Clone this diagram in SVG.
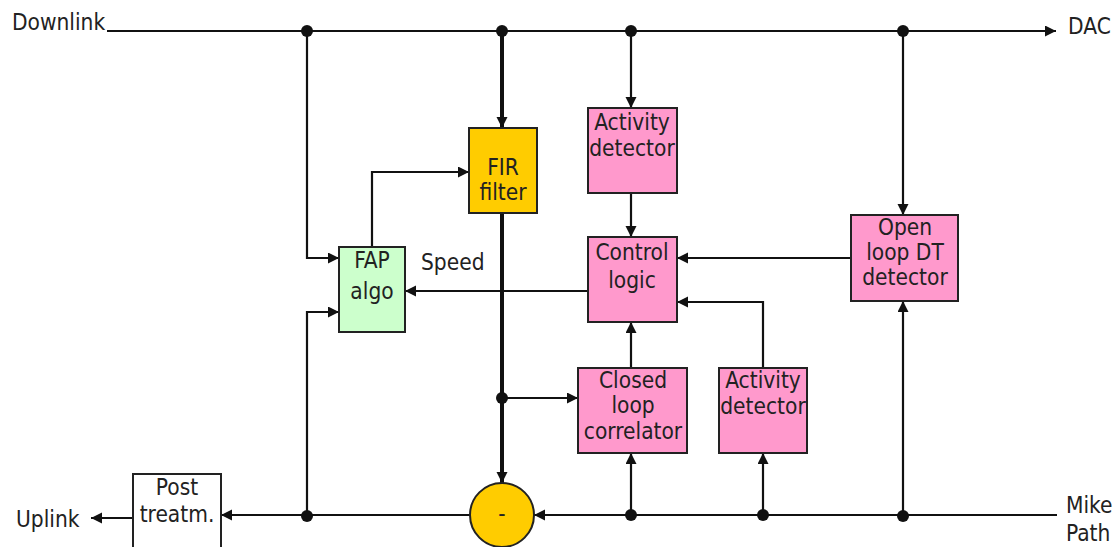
<svg xmlns="http://www.w3.org/2000/svg" width="1117" height="547" viewBox="0 0 1117 547">
  <style>
    .box { stroke: #222; stroke-width: 2; }
    .pink { fill: #ff99cc; }
    .gold { fill: #ffcc00; }
    .green { fill: #ccffcc; }
    .white { fill: #ffffff; }
    .lbl { font-family: "DejaVu Sans Condensed", "DejaVu Sans", sans-serif; font-size: 22.5px; fill: #222; }
    .mid { text-anchor: middle; }
    .wire { fill: none; stroke: #111; stroke-width: 2.2; }
    .thick { stroke-width: 4; }
    .dot { fill: #111; }
  </style>
  <defs>
    <marker id="arrow" markerUnits="userSpaceOnUse" markerWidth="12" markerHeight="12" refX="11" refY="5.5" orient="auto">
      <path d="M0,0 L11,5.5 L0,11 z" fill="#111"/>
    </marker>
  </defs>

  <rect width="1117" height="547" fill="#ffffff"/>

  <!-- connectors -->
  <g id="connectors">
    <path class="wire" d="M107,31 H1056" marker-end="url(#arrow)"/>
    <path class="wire" d="M307,31 V258 H339" marker-end="url(#arrow)"/>
    <path class="wire thick" d="M502,31 V128" marker-end="url(#arrow)"/>
    <path class="wire" d="M631,31 V108" marker-end="url(#arrow)"/>
    <path class="wire" d="M903,31 V215" marker-end="url(#arrow)"/>
    <path class="wire" d="M372,247 V172 H469" marker-end="url(#arrow)"/>
    <path class="wire" d="M631,193 V237" marker-end="url(#arrow)"/>
    <path class="wire" d="M851,258 H677" marker-end="url(#arrow)"/>
    <path class="wire" d="M588,291 H405" marker-end="url(#arrow)"/>
    <path class="wire thick" d="M502,213 V483" marker-end="url(#arrow)"/>
    <path class="wire" d="M502,398 H578" marker-end="url(#arrow)"/>
    <path class="wire" d="M631,368 V322" marker-end="url(#arrow)"/>
    <path class="wire" d="M763,368 V302 H677" marker-end="url(#arrow)"/>
    <path class="wire" d="M1057,515 H534" marker-end="url(#arrow)"/>
    <path class="wire" d="M631,515 V453" marker-end="url(#arrow)"/>
    <path class="wire" d="M763,515 V453" marker-end="url(#arrow)"/>
    <path class="wire" d="M903,515 V301" marker-end="url(#arrow)"/>
    <path class="wire" d="M470,515 H221" marker-end="url(#arrow)"/>
    <path class="wire" d="M307,515 V312 H339" marker-end="url(#arrow)"/>
    <path class="wire" d="M133,518 H91" marker-end="url(#arrow)"/>
    <circle class="dot" cx="307" cy="31" r="6"/>
    <circle class="dot" cx="502" cy="31" r="6"/>
    <circle class="dot" cx="631" cy="31" r="6"/>
    <circle class="dot" cx="903" cy="31" r="6"/>
    <circle class="dot" cx="502" cy="398" r="6"/>
    <circle class="dot" cx="307" cy="516" r="6"/>
    <circle class="dot" cx="631" cy="515" r="6"/>
    <circle class="dot" cx="763" cy="515" r="6"/>
    <circle class="dot" cx="903" cy="516" r="6"/>
  </g>

  <!-- signal labels -->
  <text class="lbl" x="12" y="30">Downlink</text>
  <text class="lbl" x="1068" y="34">DAC</text>
  <text class="lbl" x="421" y="270">Speed</text>
  <text class="lbl" x="16" y="527">Uplink</text>
  <text class="lbl" x="1066" y="513">Mike</text>
  <text class="lbl" x="1066" y="541">Path</text>

  <g id="fir-filter">
    <rect class="box gold" x="469" y="128" width="68" height="85"/>
    <text class="lbl mid" x="503" y="175">FIR</text>
    <text class="lbl mid" x="503" y="200">filter</text>
  </g>

  <g id="fap-algo">
    <rect class="box green" x="339" y="247" width="66" height="85"/>
    <text class="lbl mid" x="372" y="268">FAP</text>
    <text class="lbl mid" x="372" y="299">algo</text>
  </g>

  <g id="activity-detector-dl">
    <rect class="box pink" x="588" y="108" width="89" height="85"/>
    <text class="lbl mid" x="632" y="130">Activity</text>
    <text class="lbl mid" x="632" y="156">detector</text>
  </g>

  <g id="control-logic">
    <rect class="box pink" x="588" y="237" width="89" height="85"/>
    <text class="lbl mid" x="632" y="260">Control</text>
    <text class="lbl mid" x="632" y="288">logic</text>
  </g>

  <g id="open-loop-dt">
    <rect class="box pink" x="851" y="215" width="107" height="86"/>
    <text class="lbl mid" x="905" y="235">Open</text>
    <text class="lbl mid" x="905" y="260">loop DT</text>
    <text class="lbl mid" x="905" y="285">detector</text>
  </g>

  <g id="closed-loop-correlator">
    <rect class="box pink" x="578" y="368" width="109" height="85"/>
    <text class="lbl mid" x="633" y="388">Closed</text>
    <text class="lbl mid" x="633" y="413">loop</text>
    <text class="lbl mid" x="633" y="439">correlator</text>
  </g>

  <g id="activity-detector-ul">
    <rect class="box pink" x="719" y="368" width="88" height="85"/>
    <text class="lbl mid" x="763" y="388">Activity</text>
    <text class="lbl mid" x="763" y="414">detector</text>
  </g>

  <g id="subtractor">
    <circle class="box gold" cx="502" cy="515" r="32"/>
    <text class="lbl mid" x="502" y="521">-</text>
  </g>

  <g id="post-treatment">
    <rect class="box white" x="133" y="474" width="88" height="80"/>
    <text class="lbl mid" x="177" y="495">Post</text>
    <text class="lbl mid" x="177" y="522">treatm.</text>
  </g>
</svg>
